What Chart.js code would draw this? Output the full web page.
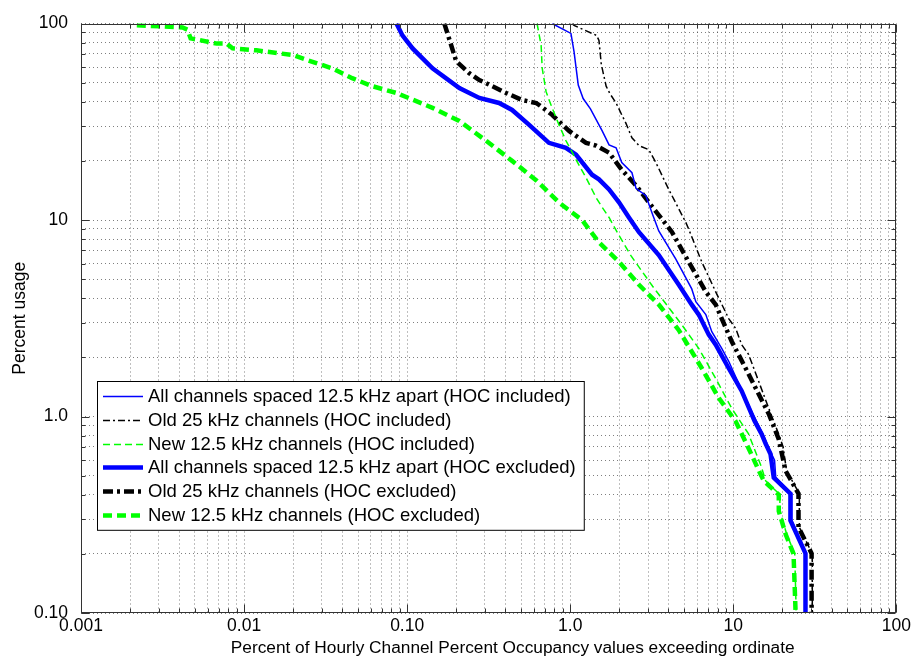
<!DOCTYPE html>
<html>
<head>
<meta charset="utf-8">
<title>Percent usage vs hourly channel percent occupancy</title>
<script src="https://cdn.jsdelivr.net/npm/chart.js@4/dist/chart.umd.min.js"></script>
<style>
  html, body { margin: 0; padding: 0; background: #fff; }
  #wrap { width: 914px; height: 661px; }
</style>
</head>
<body>
<div id="wrap"><canvas id="chart" width="914" height="661"></canvas></div>
<script>
(function () {
  'use strict';

  // x: percent of hourly channel percent occupancy values exceeding ordinate, y: percent usage
  // thin lines = HOC included, thick lines = HOC excluded

  var allInclX = [0.774, 1.01, 1.055, 1.12, 1.2, 1.33, 1.57, 1.73, 1.91, 2.07, 2.39, 2.53, 2.91, 3.17, 3.49, 4.44, 5.56, 5.89, 6.78, 7.38, 8.49, 9.37, 11.3, 13.2, 15.2, 16.8, 17.9, 18.2, 22.8, 22.8, 28.0, 28.0];
  var allInclY = [100, 89, 72, 48.6, 41.5, 36.8, 28.4, 24.1, 23.3, 19.6, 17.4, 14.5, 13.3, 10.9, 8.8, 6.33, 4.46, 3.84, 3.30, 2.70, 2.22, 1.91, 1.35, 1.03, 0.815, 0.668, 0.6, 0.49, 0.405, 0.296, 0.2, 0.1];

  var oldInclX = [1.025, 1.055, 1.45, 1.50, 1.55, 1.66, 1.75, 1.91, 2.07, 2.19, 2.39, 2.64, 3.03, 3.35, 4.02, 5.11, 5.33, 6.41, 7.8, 9.37, 10.35, 11.25, 12.4, 14.3, 16.5, 18.96, 20.2, 21.2, 25.4, 25.4, 30.5, 30.5];
  var oldInclY = [100, 97.7, 87, 82, 62, 48, 44, 39.4, 34.3, 31.2, 26.2, 23.9, 22.8, 19.6, 14.3, 9.73, 8.97, 6.11, 4.31, 3.15, 2.8, 2.32, 2.07, 1.51, 1.10, 0.815, 0.7, 0.53, 0.405, 0.273, 0.2, 0.1];

  var newInclX = [0.626, 0.663, 0.673, 0.711, 0.742, 0.774, 0.853, 0.942, 1.085, 1.25, 1.44, 1.57, 1.73, 1.95, 2.35, 3.2, 4.83, 6.14, 7.8, 9.78, 12.4, 14.8, 15.8, 19.3, 19.3, 21.3, 23.8, 24.3];
  var newInclY = [100, 77.4, 59.2, 45, 40.8, 37.2, 30.5, 25.3, 20.3, 16.4, 13.0, 11.6, 10.3, 8.6, 6.6, 4.6, 2.93, 2.22, 1.56, 1.10, 0.815, 0.56, 0.47, 0.40, 0.33, 0.25, 0.2, 0.1];

  var allExclX = [0.086, 0.0935, 0.108, 0.143, 0.209, 0.277, 0.366, 0.44, 0.56, 0.74, 0.94, 1.085, 1.36, 1.5, 1.73, 1.99, 2.29, 2.64, 3.49, 4.63, 5.56, 6.14, 7.07, 7.8, 9.37, 11.25, 13.5, 14.9, 15.8, 16.9, 17.7, 22.4, 22.4, 27.7, 27.7];
  var allExclY = [100, 87, 74.7, 59.2, 46.9, 41.8, 39.4, 36.3, 30.5, 24.7, 23.3, 21.5, 17.0, 16.1, 14.3, 12.3, 10.3, 8.67, 6.63, 4.68, 3.71, 3.30, 2.61, 2.32, 1.76, 1.35, 0.948, 0.815, 0.725, 0.645, 0.488, 0.405, 0.296, 0.201, 0.1];

  var oldExclX = [0.169, 0.200, 0.24, 0.277, 0.305, 0.405, 0.507, 0.618, 0.644, 0.774, 0.984, 1.085, 1.25, 1.44, 1.73, 2.07, 2.53, 3.15, 4.2, 5.33, 6.78, 7.8, 8.49, 9.78, 11.9, 14.3, 16.5, 18.96, 20.9, 25.1, 25.1, 30.2, 30.2];
  var oldExclY = [100, 64.2, 55.9, 51.5, 49.7, 44.3, 40.8, 39.4, 38.5, 34.3, 28.4, 26.8, 24.7, 23.9, 22.0, 18.0, 15.0, 11.8, 8.7, 6.11, 4.31, 3.71, 3.15, 2.41, 1.76, 1.30, 1.03, 0.77, 0.53, 0.405, 0.273, 0.201, 0.1];

  var newExclX = [0.0022, 0.0042, 0.0045, 0.0047, 0.0051, 0.0068, 0.0078, 0.0085, 0.0119, 0.0165, 0.020, 0.026, 0.035, 0.046, 0.061, 0.086, 0.108, 0.143, 0.209, 0.305, 0.44, 0.62, 0.85, 1.18, 1.5, 2.0, 2.64, 3.49, 4.63, 6.41, 8.15, 10.3, 12.4, 14.5, 15.4, 19.0, 19.0, 21.0, 23.4, 24.1];
  var newExclY = [98, 95.5, 93, 84, 83, 79, 79, 74.7, 73, 70.5, 69, 64, 59, 52.7, 48, 44.3, 41, 37.2, 31.9, 25.3, 20, 15.9, 12.3, 10, 7.7, 6.1, 4.68, 3.71, 2.75, 1.76, 1.24, 0.95, 0.69, 0.52, 0.47, 0.40, 0.33, 0.25, 0.20, 0.1];

  var seriesLabels = [
    'All channels spaced 12.5 kHz apart (HOC included)',
    'Old 25 kHz channels (HOC included)',
    'New 12.5 kHz channels (HOC included)',
    'All channels spaced 12.5 kHz apart (HOC excluded)',
    'Old 25 kHz channels (HOC excluded)',
    'New 12.5 kHz channels (HOC excluded)'
  ];

  var xDecades = [0.001, 0.01, 0.1, 1, 10, 100];
  var xTickLabels = ['0.001', '0.01', '0.10', '1.0', '10', '100'];
  var yDecades = [0.1, 1, 10, 100];
  var yTickLabels = ['0.10', '1.0', '10', '100'];

  var xTitle = 'Percent of Hourly Channel Percent Occupancy values exceeding ordinate';
  var yTitle = 'Percent usage';

  var FONT = '"Liberation Sans", Arial, Helvetica, sans-serif';
  var BLUE = '#0000ff';
  var GREEN = '#00ff00';
  var BLACK = '#000000';

  function toPoints(xs, ys) {
    var pts = [];
    for (var i = 0; i < xs.length; i++) pts.push({ x: xs[i], y: ys[i] });
    return pts;
  }

  // 1..9 x each decade, for the minor grid of the log axes
  function gridValues(decades) {
    var out = [];
    for (var i = 0; i < decades.length - 1; i++) {
      for (var m = 1; m <= 9; m++) out.push(m * decades[i]);
    }
    out.push(decades[decades.length - 1]);
    return out;
  }

  function makeSet(idx, xs, ys, color, width, dash) {
    return {
      label: seriesLabels[idx],
      data: toPoints(xs, ys),
      borderColor: color,
      backgroundColor: color,
      borderWidth: width,
      borderDash: dash,
      pointRadius: 0,
      pointHoverRadius: 0,
      tension: 0,
      fill: false,
      clip: 0
    };
  }

  var datasets = [
    makeSet(0, allInclX, allInclY, BLUE, 1.5, []),
    makeSet(1, oldInclX, oldInclY, BLACK, 1.5, [7, 3, 2, 3]),
    makeSet(2, newInclX, newInclY, GREEN, 1.5, [7, 4]),
    makeSet(3, allExclX, allExclY, BLUE, 4.5, []),
    makeSet(4, oldExclX, oldExclY, BLACK, 4.5, [10, 4, 3, 4]),
    makeSet(5, newExclX, newExclY, GREEN, 4.5, [9, 5])
  ];

  // axes box, inward tick marks, x title and the legend box, drawn over the lines
  var axesDecor = {
    id: 'axesDecor',
    afterDatasetsDraw: function (chart) {
      var ctx = chart.ctx;
      var a = chart.chartArea;
      var L = Math.round(a.left) + 0.5, R = Math.round(a.right) - 0.5;
      var T = Math.round(a.top) + 0.5, B = Math.round(a.bottom) - 0.5;
      ctx.save();
      ctx.strokeStyle = '#333';
      ctx.lineWidth = 1;
      ctx.setLineDash([]);

      ctx.beginPath();
      chart.scales.x.ticks.forEach(function (t) {
        var px = Math.round(chart.scales.x.getPixelForValue(t.value)) + 0.5;
        var len = xDecades.indexOf(t.value) >= 0 ? 8 : 4;
        ctx.moveTo(px, B); ctx.lineTo(px, B - len);
        ctx.moveTo(px, T); ctx.lineTo(px, T + len);
      });
      chart.scales.y.ticks.forEach(function (t) {
        var py = Math.round(chart.scales.y.getPixelForValue(t.value)) + 0.5;
        var len = yDecades.indexOf(t.value) >= 0 ? 8 : 4;
        ctx.moveTo(L, py); ctx.lineTo(L + len, py);
        ctx.moveTo(R, py); ctx.lineTo(R - len, py);
      });
      ctx.stroke();
      ctx.strokeRect(L, T, R - L, B - T);

      // x axis title, sits a little right of the axes centre in the original
      ctx.font = '17.3px ' + FONT;
      ctx.fillStyle = '#000';
      ctx.textAlign = 'center';
      ctx.textBaseline = 'middle';
      ctx.fillText(xTitle, (a.left + a.right) / 2 + 24, 648);

      // legend
      var lx = 97, ly = 381, rowH = 23.8, sampleLen = 40;
      ctx.font = '18.5px ' + FONT;
      ctx.textAlign = 'left';
      var maxW = 0;
      chart.data.datasets.forEach(function (ds) {
        maxW = Math.max(maxW, ctx.measureText(ds.label).width);
      });
      var boxW = 6 + sampleLen + 5 + maxW + 8;
      var boxH = rowH * chart.data.datasets.length + 6;
      ctx.fillStyle = '#fff';
      ctx.fillRect(lx, ly, boxW, boxH);
      ctx.strokeStyle = '#000';
      ctx.strokeRect(lx + 0.5, ly + 0.5, boxW, boxH);
      chart.data.datasets.forEach(function (ds, i) {
        var cy = ly + 15 + i * rowH;
        ctx.beginPath();
        ctx.strokeStyle = ds.borderColor;
        ctx.lineWidth = ds.borderWidth;
        ctx.setLineDash(ds.borderDash || []);
        ctx.moveTo(lx + 6, Math.round(cy) + 0.5);
        ctx.lineTo(lx + 6 + sampleLen, Math.round(cy) + 0.5);
        ctx.stroke();
        ctx.setLineDash([]);
        ctx.fillStyle = '#000';
        ctx.fillText(ds.label, lx + 6 + sampleLen + 5, cy + 1);
      });
      ctx.restore();
    }
  };

  function init() {
    var canvas = document.getElementById('chart');
    new Chart(canvas, {
      type: 'line',
      data: { datasets: datasets },
      options: {
        responsive: false,
        animation: false,
        events: [],
        layout: { padding: { left: 0, top: 20, right: 16, bottom: 0 } },
        plugins: {
          legend: { display: false },
          tooltip: { enabled: false }
        },
        scales: {
          x: {
            type: 'logarithmic',
            min: 0.001,
            max: 100,
            afterBuildTicks: function (scale) {
              scale.ticks = gridValues(xDecades).map(function (v) { return { value: v }; });
            },
            afterFit: function (scale) { scale.height = 48; },
            ticks: {
              autoSkip: false,
              maxRotation: 0,
              minRotation: 0,
              padding: 3,
              color: '#000',
              font: { family: FONT, size: 17.5 },
              callback: function (value) {
                var i = xDecades.indexOf(value);
                return i >= 0 ? xTickLabels[i] : '';
              }
            },
            grid: { color: 'rgba(0,0,0,0.5)', lineWidth: 1, drawTicks: false },
            border: { display: false, dash: [1, 3] },
            title: { display: false }
          },
          y: {
            type: 'logarithmic',
            min: 0.1,
            max: 100,
            afterBuildTicks: function (scale) {
              scale.ticks = gridValues(yDecades).map(function (v) { return { value: v }; });
            },
            afterFit: function (scale) { scale.width = 81; },
            ticks: {
              autoSkip: false,
              padding: 13,
              color: '#000',
              font: { family: FONT, size: 17.5 },
              callback: function (value) {
                var i = yDecades.indexOf(value);
                return i >= 0 ? yTickLabels[i] : '';
              }
            },
            grid: { color: 'rgba(0,0,0,0.5)', lineWidth: 1, drawTicks: false },
            border: { display: false, dash: [1, 3] },
            title: {
              display: true,
              text: yTitle,
              color: '#000',
              font: { family: FONT, size: 17.5 },
              padding: { top: 10, bottom: 0 }
            }
          }
        }
      },
      plugins: [axesDecor]
    });
  }

  if (document.readyState === 'loading') {
    document.addEventListener('DOMContentLoaded', init);
  } else {
    init();
  }
})();
</script>
</body>
</html>
